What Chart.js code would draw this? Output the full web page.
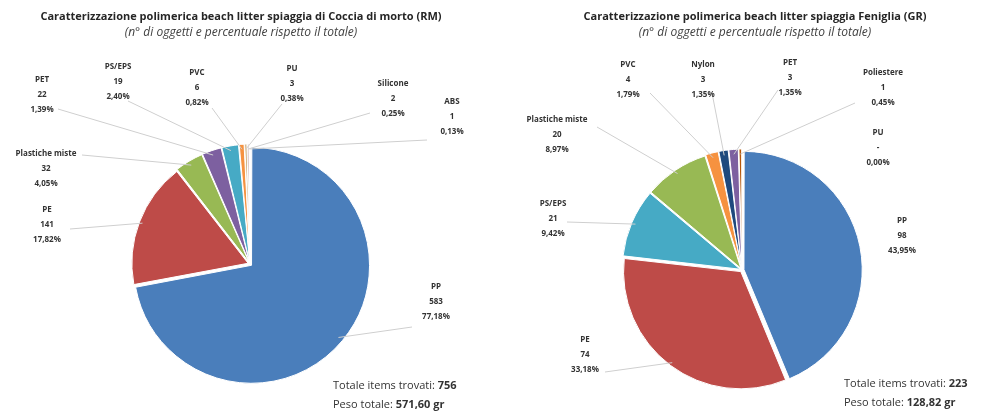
<!DOCTYPE html>
<html>
<head>
<meta charset="utf-8">
<script src="https://cdn.jsdelivr.net/npm/chart.js@4.4.1/dist/chart.umd.min.js"></script>
<style>
html, body { margin: 0; padding: 0; background: #fff; }
#wrap { position: relative; width: 983px; height: 415px; overflow: hidden; }
.box { position: absolute; top: 0; height: 415px; }
</style>
</head>
<body>
<div id="wrap">
  <div class="box" style="left:0;width:491px"><canvas id="pie_rm"></canvas></div>
  <div class="box" style="left:491px;width:492px"><canvas id="pie_gr"></canvas></div>
</div>
<script>
// Coccia di Morto (RM)
var rmLabels = ["PP", "PE", "Plastiche miste", "PET", "PS/EPS", "PVC", "PU", "Silicone", "ABS"];
var rmCounts = [583, 141, 32, 22, 19, 6, 3, 2, 1];
var rmPerc = ["77,18%", "17,82%", "4,05%", "1,39%", "2,40%", "0,82%", "0,38%", "0,25%", "0,13%"];
var rmTotal = "756";
var rmWeight = "571,60 gr";

// Feniglia (GR)
var grLabels = ["PP", "PE", "PS/EPS", "Plastiche miste", "PVC", "Nylon", "PET", "Poliestere", "PU"];
var grCounts = [98, 74, 21, 20, 4, 3, 3, 1, 0];
var grPerc = ["43,95%", "33,18%", "9,42%", "8,97%", "1,79%", "1,35%", "1,35%", "0,45%", "0,00%"];
var grTotal = "223";
var grWeight = "128,82 gr";

var FONT = "'Open Sans', Lato, sans-serif";

// where each label block sits: [text x, first line y, leader start x, leader start y]
var rmPlaces = [
  [436, 287, 412, 327], [47, 210, 70, 229], [46, 154, 82, 155],
  [42, 80, 58, 109], [118, 67, 128, 101], [197, 73, 212, 108],
  [292, 69, 282, 104], [393, 84, 370, 113], [452, 102, 427, 140]
];
var grPlaces = [
  [411, 221, null, null], [94, 340, 114, 372], [62, 204, 76, 222],
  [66, 120, 106, 127], [137, 65, 159, 93], [212, 65, 221, 93],
  [299, 63, 287, 90], [392, 73, 364, 103], [387, 133, null, null]
];

// point on the slice rim at its middle angle (offset included)
function rimPoint(arc) {
  var half = (arc.startAngle + arc.endAngle) / 2;
  var off = (arc.options.offset || 0) / 4;
  var r = arc.outerRadius - 3 + off;
  return [arc.x + Math.cos(half) * r, arc.y + Math.sin(half) * r];
}

var sliceLabels = {
  id: 'sliceLabels',
  afterDatasetsDraw: function(chart, args, opts) {
    var ctx = chart.ctx;
    var meta = chart.getDatasetMeta(0);
    var ds = chart.data.datasets[0];
    ctx.save();

    // titles
    ctx.textAlign = 'center';
    ctx.textBaseline = 'middle';
    ctx.fillStyle = '#262626';
    ctx.font = "bold 11px " + FONT;
    ctx.fillText(opts.title, opts.titleX, 17);
    ctx.font = "italic 12px " + FONT;
    ctx.fillStyle = '#404040';
    ctx.fillText("(n° di oggetti e percentuale rispetto il totale)", opts.titleX, 33);

    // leader lines
    ctx.strokeStyle = '#cfcfcf';
    ctx.lineWidth = 1;
    meta.data.forEach(function(arc, i) {
      var p = opts.places[i];
      if (p[2] === null || ds.data[i] === 0) return;
      var q = rimPoint(arc);
      ctx.beginPath();
      ctx.moveTo(p[2], p[3]);
      ctx.lineTo(q[0], q[1]);
      ctx.stroke();
    });

    // label blocks
    ctx.fillStyle = '#333';
    ctx.font = "bold 8px " + FONT;
    meta.data.forEach(function(arc, i) {
      var p = opts.places[i];
      var v = ds.data[i] === 0 ? '-' : String(ds.data[i]);
      ctx.fillText(chart.data.labels[i], p[0], p[1]);
      ctx.fillText(v, p[0], p[1] + 15);
      ctx.fillText(opts.perc[i], p[0], p[1] + 30);
    });

    // totals
    ctx.textAlign = 'left';
    var x = opts.totX;
    ctx.font = "11px " + FONT;
    ctx.fillStyle = '#333';
    var t1 = "Totale items trovati: ";
    ctx.fillText(t1, x, opts.totY);
    var w1 = ctx.measureText(t1).width;
    var t2 = "Peso totale: ";
    ctx.fillText(t2, x, opts.totY + 19);
    var w2 = ctx.measureText(t2).width;
    ctx.font = "bold 11px " + FONT;
    ctx.fillText(opts.total, x + w1, opts.totY);
    ctx.fillText(opts.weight, x + w2, opts.totY + 19);
    ctx.restore();
  }
};

var rmData = {
  labels: rmLabels,
  datasets: [{
    data: rmCounts,
    backgroundColor: ["#4a7ebb", "#be4b48", "#98b954", "#7d60a0", "#46aac5", "#f69240", "#c9a36a", "#772c2a", "#5f7530"],
    borderColor: "#fff",
    borderWidth: 1,
    offset: 8
  }]
};
var rmOptions = {
  responsive: true,
  maintainAspectRatio: false,
  animation: false,
  radius: 116,
  layout: { padding: { left: 130, right: 121, top: 144, bottom: 31 } },
  plugins: {
    legend: { display: false },
    tooltip: { enabled: false },
    sliceLabels: {
      title: "Caratterizzazione polimerica beach litter spiaggia di Coccia di morto (RM)",
      titleX: 241, places: rmPlaces, perc: rmPerc,
      total: rmTotal, weight: rmWeight, totX: 333, totY: 386
    }
  }
};
new Chart(document.getElementById("pie_rm"), { type: 'pie', data: rmData, options: rmOptions, plugins: [sliceLabels] });

var grData = {
  labels: grLabels,
  datasets: [{
    data: grCounts,
    backgroundColor: ["#4a7ebb", "#be4b48", "#46aac5", "#98b954", "#f69240", "#1f497d", "#7d60a0", "#b65708", "#4a7ebb"],
    borderColor: "#fff",
    borderWidth: 1,
    offset: 8
  }]
};
var grOptions = {
  responsive: true,
  maintainAspectRatio: false,
  animation: false,
  radius: 117,
  layout: { padding: { left: 131, right: 121, top: 150, bottom: 25 } },
  plugins: {
    legend: { display: false },
    tooltip: { enabled: false },
    sliceLabels: {
      title: "Caratterizzazione polimerica beach litter spiaggia Feniglia (GR)",
      titleX: 264, places: grPlaces, perc: grPerc,
      total: grTotal, weight: grWeight, totX: 353, totY: 384
    }
  }
};
new Chart(document.getElementById("pie_gr"), { type: 'pie', data: grData, options: grOptions, plugins: [sliceLabels] });
</script>
</body>
</html>
